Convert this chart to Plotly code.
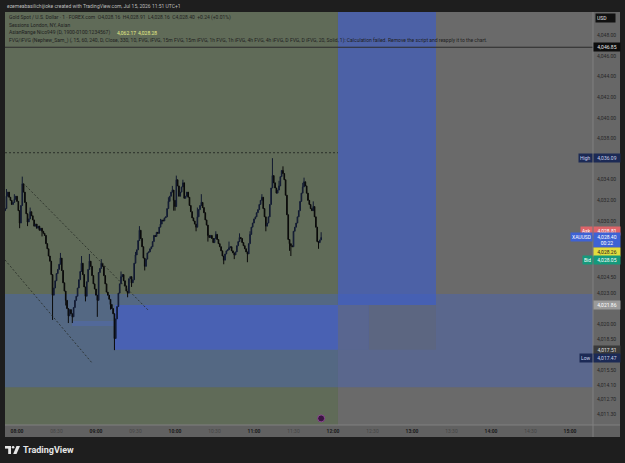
import plotly.graph_objects as go
import pandas as pd

# ------------------------------------------------------------------ data
DAY = "2026-07-15 "
CANDLE_START = DAY + "07:51"
OPEN_FIRST = 4031.0
CLOSES = [
    4031.2, 4032.4, 4032.8, 4032.3, 4032.0, 4031.6, 4031.8, 4032.1, 4032.4, 4031.9,
    4031.0, 4029.8, 4031.5, 4033.6, 4032.8, 4031.8, 4030.7, 4029.9, 4030.2, 4030.9,
    4030.5, 4030.1, 4029.5, 4029.7, 4029.3, 4029.5, 4029.1, 4029.3, 4029.0, 4028.8,
    4028.6, 4027.8, 4027.3, 4026.6, 4026.1, 4024.8, 4022.8, 4023.5, 4024.2, 4024.9,
    4025.3, 4025.8, 4026.4, 4025.2, 4024.0, 4023.2, 4022.3, 4021.5, 4020.8, 4021.4,
    4021.0, 4020.7, 4021.6, 4022.3, 4022.7, 4023.5, 4024.3, 4025.1, 4025.9, 4024.8,
    4023.6, 4022.7, 4024.1, 4025.3, 4026.1, 4025.6, 4024.7, 4023.9, 4023.4, 4022.8,
    4022.3, 4025.0, 4025.4, 4025.9, 4025.6, 4024.7, 4023.9, 4023.1, 4022.8, 4022.4,
    4021.9, 4021.5, 4021.0, 4018.6, 4020.5, 4021.7, 4023.0, 4023.9, 4024.6, 4024.8,
    4024.2, 4023.7, 4023.2, 4023.0, 4024.4, 4024.6, 4024.0, 4024.3, 4025.9, 4026.7,
    4027.2, 4028.1, 4029.1, 4028.3, 4027.5, 4026.4, 4025.6, 4026.3, 4026.9, 4027.0,
    4027.3, 4027.5, 4028.0, 4028.6, 4028.5, 4028.9, 4028.8, 4029.4, 4029.7, 4030.1,
    4030.0, 4030.3, 4030.4, 4031.2, 4031.9, 4032.4, 4032.8, 4033.0, 4032.0, 4031.4,
    4034.0, 4033.4, 4032.4, 4032.8, 4033.3, 4033.7, 4032.2, 4032.4, 4032.8, 4032.3,
    4031.5, 4030.9, 4030.3, 4030.0, 4029.7, 4029.4, 4030.4, 4031.1, 4031.5, 4031.8,
    4031.3, 4030.8, 4030.1, 4029.6, 4028.6, 4028.4, 4028.6, 4028.3, 4027.9, 4028.3,
    4028.7, 4028.2, 4027.8, 4027.5, 4027.1, 4026.6, 4026.2, 4026.8, 4027.1, 4027.2,
    4027.4, 4027.5, 4027.1, 4026.9, 4026.7, 4027.0, 4027.6, 4028.0, 4028.4, 4028.3,
    4027.9, 4027.6, 4027.3, 4027.0, 4026.8, 4027.8, 4028.7, 4029.4, 4029.8, 4030.2,
    4030.4, 4030.8, 4031.1, 4031.6, 4032.0, 4032.3, 4031.2, 4030.4, 4029.5, 4029.8,
    4030.4, 4031.6, 4033.2, 4034.4, 4033.7, 4033.2, 4032.7, 4033.0, 4033.4, 4034.3,
    4034.9, 4034.6, 4034.0, 4032.5, 4030.6, 4028.2, 4027.8, 4027.6, 4027.5, 4029.0,
    4029.4, 4029.8, 4030.4, 4031.0, 4031.9, 4032.7, 4033.3, 4033.8, 4033.4, 4032.7,
    4032.0, 4031.6, 4031.2, 4031.0, 4031.4, 4030.4, 4029.4, 4028.0, 4027.9, 4028.16,
    4028.40,
]
HIGH_WICKS = {1: 4033.1, 7: 4032.6, 13: 4034.3, 19: 4031.3, 42: 4026.9, 58: 4026.6,
              64: 4026.8, 73: 4026.3, 88: 4025.1, 99: 4027.0, 102: 4029.5, 118: 4030.2,
              124: 4032.3, 127: 4033.4, 130: 4034.4, 135: 4034.0, 146: 4031.3, 149: 4032.6,
              160: 4029.0, 170: 4028.0, 178: 4028.8, 186: 4029.0, 195: 4032.6, 203: 4036.09,
              208: 4033.9, 211: 4035.3, 226: 4033.7, 227: 4034.2, 234: 4031.9, 240: 4028.91}
LOW_WICKS = {11: 4029.3, 17: 4029.5, 28: 4028.5, 36: 4020.4, 46: 4021.8, 48: 4020.1,
             51: 4020.1, 61: 4022.2, 70: 4020.7, 80: 4021.4, 83: 4017.47, 93: 4022.6,
             96: 4023.6, 106: 4025.2, 128: 4031.0, 129: 4031.0, 145: 4029.0, 154: 4028.0,
             166: 4025.8, 174: 4026.3, 184: 4026.0, 198: 4029.0, 216: 4027.1, 217: 4026.6,
             238: 4027.3}

X_TICKS = ["08:00", "08:30", "09:00", "09:30", "10:00", "10:30", "11:00", "11:30",
           "12:00", "12:30", "13:00", "13:30", "14:00", "14:30", "15:00"]
Y_TICKS = [4048.0, 4046.0, 4044.0, 4042.0, 4040.0, 4038.0, 4034.0, 4032.0, 4030.0,
           4024.5, 4023.0, 4020.0, 4018.5, 4015.5, 4014.1, 4012.7, 4011.3]

X_RANGE = [DAY + "07:50:53", DAY + "15:17:28"]
Y_RANGE = [4010.21, 4050.27]

SESSION = [DAY + "06:00", DAY + "12:03:47"]           # London session shading
PROJ = [DAY + "12:03:47", DAY + "13:18:13"]           # blue projection box
PROJ_SPLIT = DAY + "12:27:20"
RANGE_BAND = [4013.87, 4022.92]                       # wide horizontal zone
FVG = [DAY + "09:14:26", DAY + "12:03:47", 4017.51, 4021.86]
FVG_THIN = [DAY + "08:41:46", DAY + "09:14:26", 4019.82, 4020.30]
TOP_LINE = 4046.85
HIGH_DASH = [DAY + "07:50:53", DAY + "12:03:47", 4036.62]
TREND_UP = [DAY + "08:04:34", 4033.69, DAY + "09:39:30", 4021.37]
TREND_LO = [DAY + "07:50:53", 4026.22, DAY + "08:57:00", 4016.23]
EVENT = [DAY + "11:51", 4010.85]

PRICE_TAGS = [  # (side tag, value text, price, bg, fg, yshift)
    ("", "4,046.85", 4046.85, "#0d0d0d", "#e8e8e8", 0),
    ("High", "4,036.09", 4036.09, "#1c2a55", "#c8d0ea", 0),
    ("Ask", "4,028.81", 4028.81, "#dd6469", "#ffffff", 2),
    ("XAUUSD", "4,028.40<br>00:22", 4028.40, "#3e62d4", "#ffffff", -3),
    ("", "4,028.26", 4028.26, "#e2dc3e", "#222222", -13),
    ("Bid", "4,028.05", 4028.05, "#15997b", "#ffffff", -19),
    ("", "4,021.86", 4021.86, "#9a9a9a", "#ffffff", 0),
    ("", "4,017.51", 4017.51, "#3a3a3a", "#e0e0e0", 0),
    ("Low", "4,017.47", 4017.47, "#1c2a55", "#c8d0ea", -8),
]

# ------------------------------------------------------------------ build
times = pd.date_range(CANDLE_START, periods=len(CLOSES), freq="min")
opens = [OPEN_FIRST] + CLOSES[:-1]
highs = [max(HIGH_WICKS.get(i, 0), o, c) for i, (o, c) in enumerate(zip(opens, CLOSES))]
lows = [min(LOW_WICKS.get(i, 1e9), o, c) for i, (o, c) in enumerate(zip(opens, CLOSES))]

W, H = 625, 463
L, R, T, B = 5, 32, 12, 38
PW, PH = W - L - R, H - T - B
FONT = "Roboto"


def px(x, y):
    return (x - L) / PW, (H - B - y) / PH


fig = go.Figure()
fig.add_trace(go.Candlestick(
    x=times, open=opens, high=highs, low=lows, close=CLOSES,
    increasing=dict(line=dict(color="#121a30", width=1), fillcolor="#2a3b74"),
    decreasing=dict(line=dict(color="#0a0a0a", width=1), fillcolor="#0a0a0a"),
    whiskerwidth=0, hoverinfo="skip", showlegend=False,
))
fig.add_trace(go.Scatter(
    x=[EVENT[0]], y=[EVENT[1]], mode="markers",
    marker=dict(size=7, color="#3b1442", line=dict(color="#8c4a92", width=1)),
    hoverinfo="skip", showlegend=False, cliponaxis=False,
))

shapes = []


def rect(x0, x1, y0, y1, color, ref="data"):
    if ref == "data":
        shapes.append(dict(type="rect", xref="x", yref="y", x0=x0, x1=x1, y0=y0, y1=y1,
                           fillcolor=color, line=dict(width=0), layer="below"))
    else:
        shapes.append(dict(type="rect", xref="paper", yref="paper", x0=x0, x1=x1, y0=y0,
                           y1=y1, fillcolor=color, line=dict(width=0), layer="below"))


# axis strips (paper)
ax0, ay1 = px(593, 12)
ax1, ay0 = px(620, 437)
rect(ax0, ax1, ay0, ay1, "#676767", "paper")
bx0, _ = px(5, 0)
rect(bx0, ax1, ay0, 0, "#616161", "paper")

# regions
rect(SESSION[0], SESSION[1], 4000, 4060, "#606b58")
rect(DAY + "06:00", DAY + "16:00", RANGE_BAND[0], RANGE_BAND[1], "rgba(70,100,190,0.42)")
rect(FVG_THIN[0], FVG_THIN[1], FVG_THIN[2], FVG_THIN[3], "rgba(80,110,210,0.30)")
rect(FVG[0], FVG[1], FVG[2], FVG[3], "rgba(66,94,212,0.60)")
rect(PROJ[0], PROJ[1], FVG[3], 4060, "rgba(60,92,200,0.64)")
rect(PROJ[0], PROJ_SPLIT, FVG[2], FVG[3], "rgba(85,100,170,0.12)")
rect(PROJ_SPLIT, PROJ[1], FVG[2], FVG[3], "rgba(100,100,104,0.30)")

# lines
shapes.append(dict(type="line", xref="x", yref="y", x0=DAY + "06:00", x1=DAY + "16:00",
                   y0=TOP_LINE, y1=TOP_LINE, line=dict(color="#2b2b2b", width=1)))
shapes.append(dict(type="line", xref="x", yref="y", x0=HIGH_DASH[0], x1=HIGH_DASH[1],
                   y0=HIGH_DASH[2], y1=HIGH_DASH[2],
                   line=dict(color="#2a3029", width=1, dash="2px,2px")))
for tl in (TREND_UP, TREND_LO):
    shapes.append(dict(type="line", xref="x", yref="y", x0=tl[0], y0=tl[1], x1=tl[2], y1=tl[3],
                       line=dict(color="#252a25", width=0.8, dash="2px,2px")))

# separators
sx, sy0 = px(593, 437)
_, sy1 = px(593, 12)
shapes.append(dict(type="line", xref="paper", yref="paper", x0=sx, x1=sx, y0=sy0, y1=sy1,
                   line=dict(color="#808080", width=1)))
hx0, hy = px(5, 425)
hx1, _ = px(620, 425)
shapes.append(dict(type="line", xref="paper", yref="paper", x0=hx0, x1=hx1, y0=hy, y1=hy,
                   line=dict(color="#808080", width=1)))

# TradingView logo
lx0, ly0 = px(5, 446)
lx1, ly1 = px(11, 448.6)
shapes.append(dict(type="rect", xref="paper", yref="paper", x0=lx0, x1=lx1, y0=ly1, y1=ly0,
                   fillcolor="#e6e6e6", line=dict(width=0)))
lx0, ly0 = px(8.2, 446)
lx1, ly1 = px(11, 454)
shapes.append(dict(type="rect", xref="paper", yref="paper", x0=lx0, x1=lx1, y0=ly1, y1=ly0,
                   fillcolor="#e6e6e6", line=dict(width=0)))
cx0, cy0 = px(11.8, 446)
cx1, cy1 = px(14.4, 448.6)
shapes.append(dict(type="circle", xref="paper", yref="paper", x0=cx0, x1=cx1, y0=cy1, y1=cy0,
                   fillcolor="#e6e6e6", line=dict(width=0)))
pts = [px(16.5, 446), px(20, 446), px(16.5, 454), px(13.2, 454)]
path = "M " + " L ".join(f"{a},{b}" for a, b in pts) + " Z"
shapes.append(dict(type="path", xref="paper", yref="paper", path=path,
                   fillcolor="#e6e6e6", line=dict(width=0)))

# ------------------------------------------------------------------ text
ann = []


def text(t, x, y, size=5, color="#1f1f1f", xanchor="left", **kw):
    xp, yp = px(x, y)
    ann.append(dict(text=t, x=xp, y=yp, xref="paper", yref="paper", xanchor=xanchor,
                    yanchor="middle", showarrow=False,
                    font=dict(size=size, color=color, family=FONT), **kw))


text("ezemeabasilichijioke created with TradingView.com, Jul 15, 2026 11:51 UTC+1", 5, 6,
     color="#bdbdbd")
text("Gold Spot / U.S. Dollar · 1 · FOREX.com  O4,028.16  H4,028.91  L4,028.16  "
     "C4,028.40  +0.24 (+0.01%)", 7, 17.3)
text("Sessions London, NY, Asian", 7, 25)
text("AsianRange Nico949 (D, 1900-0100:1234567)", 7, 32.7)
text("4,062.17", 115, 32.7, color="#e4ec86")
text("4,028.28", 136, 32.7, color="#e4ec86")
text("FVG/iFVG (Nephew_Sam_) (, 15, 60, 240, D, Close, 330, 10, FVG, iFVG, 15m FVG, "
     "15m iFVG, 1h FVG, 1h iFVG, 4h FVG, 4h iFVG, D FVG, D iFVG, 20, Solid, 1): "
     "Calculation failed. Remove the script and reapply it to the chart.", 7, 40.7)
text("<b>TradingView</b>", 21, 450, size=9, color="#e6e6e6")
text("USD", 595, 18, color="#e0e0e0", bgcolor="#111111", width=17, height=6, borderpad=1,
     align="left")

for tag, val, price, bg, fg, ys in PRICE_TAGS:
    yp = (price - Y_RANGE[0]) / (Y_RANGE[1] - Y_RANGE[0])
    two = "<br>" in val
    ann.append(dict(text=val, x=1.0, y=yp, xref="paper", yref="paper", xanchor="left",
                    yanchor="middle", yshift=ys, showarrow=False, align="center",
                    font=dict(size=5, color=fg, family=FONT), bgcolor=bg,
                    width=24, height=12 if two else 6, borderpad=1))
    if tag:
        ann.append(dict(text=tag, x=1.0, y=yp, xref="paper", yref="paper", xanchor="right",
                        yanchor="middle", yshift=ys + (3 if two else 0), showarrow=False,
                        align="center", font=dict(size=5, color=fg, family=FONT),
                        bgcolor=bg, height=6, borderpad=1))

tick_text = []
for t in X_TICKS:
    if t.endswith(":00"):
        tick_text.append(f"<b><span style='color:#1a1a1a'>{t}</span></b>")
    else:
        tick_text.append(f"<span style='color:#454545'>{t}</span>")

fig.update_layout(
    width=W, height=H, margin=dict(l=L, r=R, t=T, b=B),
    paper_bgcolor="#1e1e1e", plot_bgcolor="#6a6a6a",
    shapes=shapes, annotations=ann, showlegend=False,
    font=dict(family=FONT),
    xaxis=dict(type="date", range=X_RANGE, rangeslider=dict(visible=False),
               showgrid=False, zeroline=False, showline=False, ticks="",
               tickvals=[DAY + t for t in X_TICKS], ticktext=tick_text,
               tickfont=dict(size=5, color="#1a1a1a", family=FONT), ticklabelstandoff=2),
    yaxis=dict(side="right", range=Y_RANGE, showgrid=False, zeroline=False, showline=False,
               ticks="", tickvals=Y_TICKS, ticktext=[f"{v:,.2f}" for v in Y_TICKS],
               tickfont=dict(size=5, color="#262626", family=FONT), ticklabelstandoff=3),
)

fig.write_html("out.html")
